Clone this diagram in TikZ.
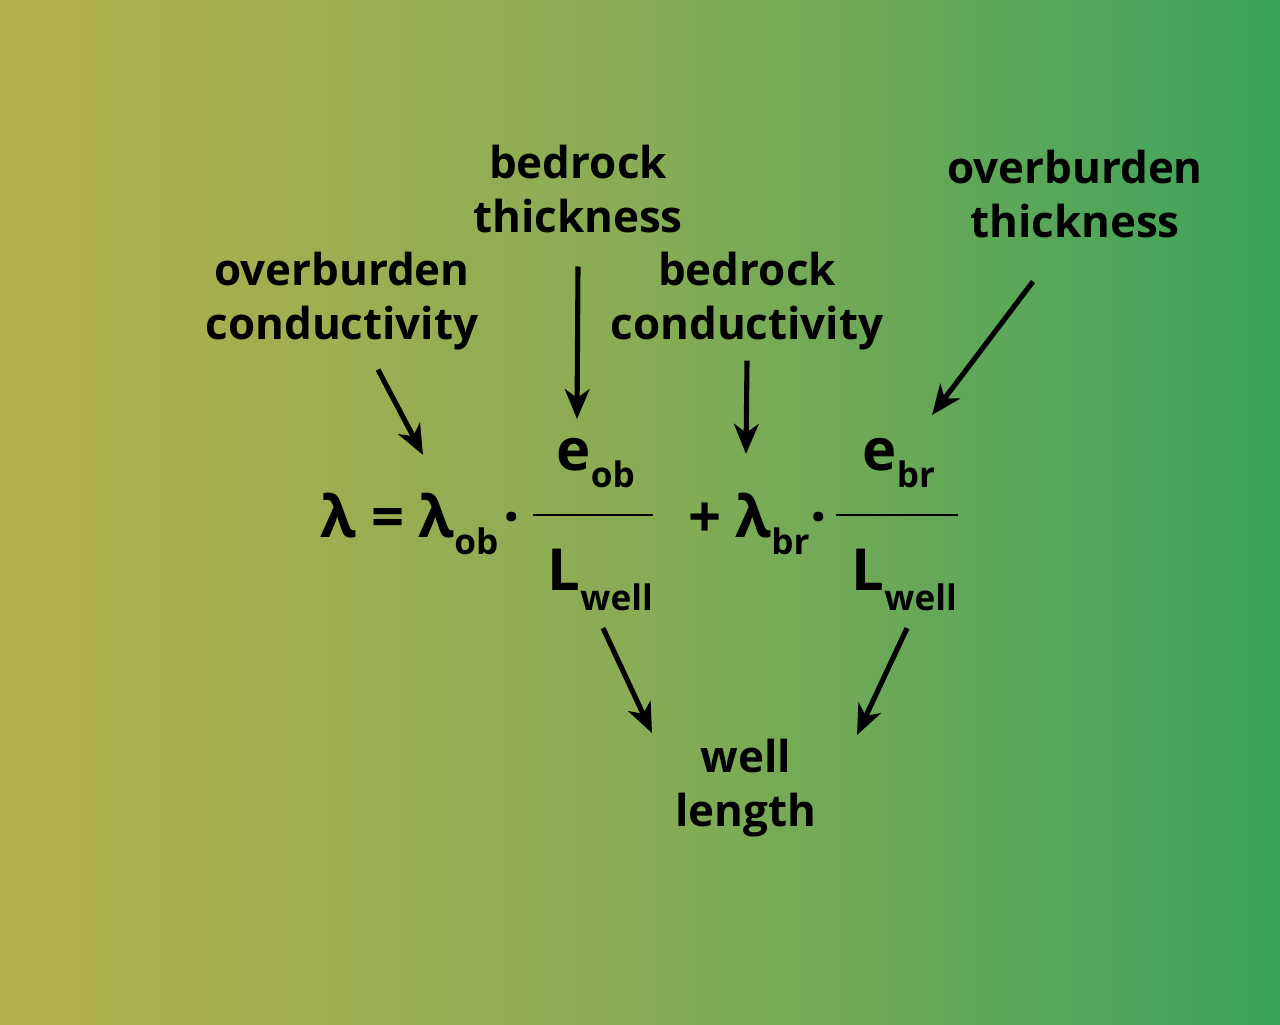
\documentclass[tikz,border=0pt]{standalone}
\usepackage{fontspec}
\setmainfont{Open Sans}
\usepackage{tikz}
\usetikzlibrary{arrows.meta,positioning,calc}

\definecolor{olivebg}{HTML}{B5B04D}
\definecolor{midbg}{HTML}{88AC55}
\definecolor{greenbg}{HTML}{3BA35B}
\pgfdeclarehorizontalshading{bgshade}{100bp}{color(0bp)=(olivebg); color(25bp)=(olivebg); color(50bp)=(midbg); color(75bp)=(greenbg); color(100bp)=(greenbg)}

% lowered subscript in the equation
\newcommand\eqsub[2][5pt]{\raisebox{-#1}{\fontsize{10}{12}\selectfont #2}}

\begin{document}
\begin{tikzpicture}[
  font=\bfseries,
  lbl/.style={align=center, inner sep=0pt, anchor=north, font=\fontsize{12.5}{15.3}\selectfont\bfseries},
  eq/.style={inner sep=0pt, anchor=base west, font=\fontsize{16.5}{20}\selectfont\bfseries},
  arr/.style={-{Stealth[length=8.5pt,width=7pt,inset=2.5pt]}, line width=1.45pt}
]
\useasboundingbox (0,0) rectangle (12.8,-10.24);
\shade[shading=bgshade] (0,0) rectangle (12.8,-10.24);

% equation
\node[eq] (lhs) at (3.20,-5.37) {λ =};
\node[eq] (lamob) at (4.18,-5.37) {λ\eqsub{ob}};
\node[eq] (dot1) at (5.03,-5.37) {·};
\node[eq] (eob) at (5.56,-4.70) {e\eqsub{ob}};
\node[eq] (lw1) at (5.47,-5.90) {L\eqsub[5.7pt]{well}};
\node[eq] (plus) at (6.88,-5.37) {+};
\node[eq] (lambr) at (7.35,-5.37) {λ\eqsub{br}};
\node[eq] (dot2) at (8.10,-5.37) {·};
\node[eq] (ebr) at (8.62,-4.70) {e\eqsub{br}};
\node[eq] (lw2) at (8.51,-5.90) {L\eqsub[5.7pt]{well}};
\draw[line width=0.6pt] (5.33,-5.15) -- (6.53,-5.15);
\draw[line width=0.6pt] (8.36,-5.15) -- (9.58,-5.15);

% labels
\node[lbl] (bt) at (5.78,-1.445) {bedrock\\thickness};
\node[lbl] (oc) at (3.42,-2.515) {overburden\\conductivity};
\node[lbl] (bc) at (7.47,-2.515) {bedrock\\conductivity};
\node[lbl] (ot) at (10.75,-1.495) {overburden\\thickness};
\node[lbl] (wl) at (7.46,-7.385) {well\\length};

% arrows
\draw[arr] ([shift={(0.36,-0.19)}]oc.south) -- ([shift={(0.05,0.37)}]lamob.north west);
\draw[arr] ([shift={(0,-0.33)}]bt.south) -- ([shift={(0.21,0.18)}]eob.north west);
\draw[arr] ([shift={(0,-0.10)}]bc.south) -- ([shift={(0.11,0.38)}]lambr.north west);
\draw[arr] ([shift={(-0.42,-0.43)}]ot.south) -- ([shift={(0.70,0.22)}]ebr.north west);
\draw[arr] ([shift={(0.56,-0.17)}]lw1.south west) -- ([shift={(-0.94,0.055)}]wl.north);
\draw[arr] ([shift={(0.56,-0.17)}]lw2.south west) -- ([shift={(1.11,0.035)}]wl.north);
\end{tikzpicture}
\end{document}
